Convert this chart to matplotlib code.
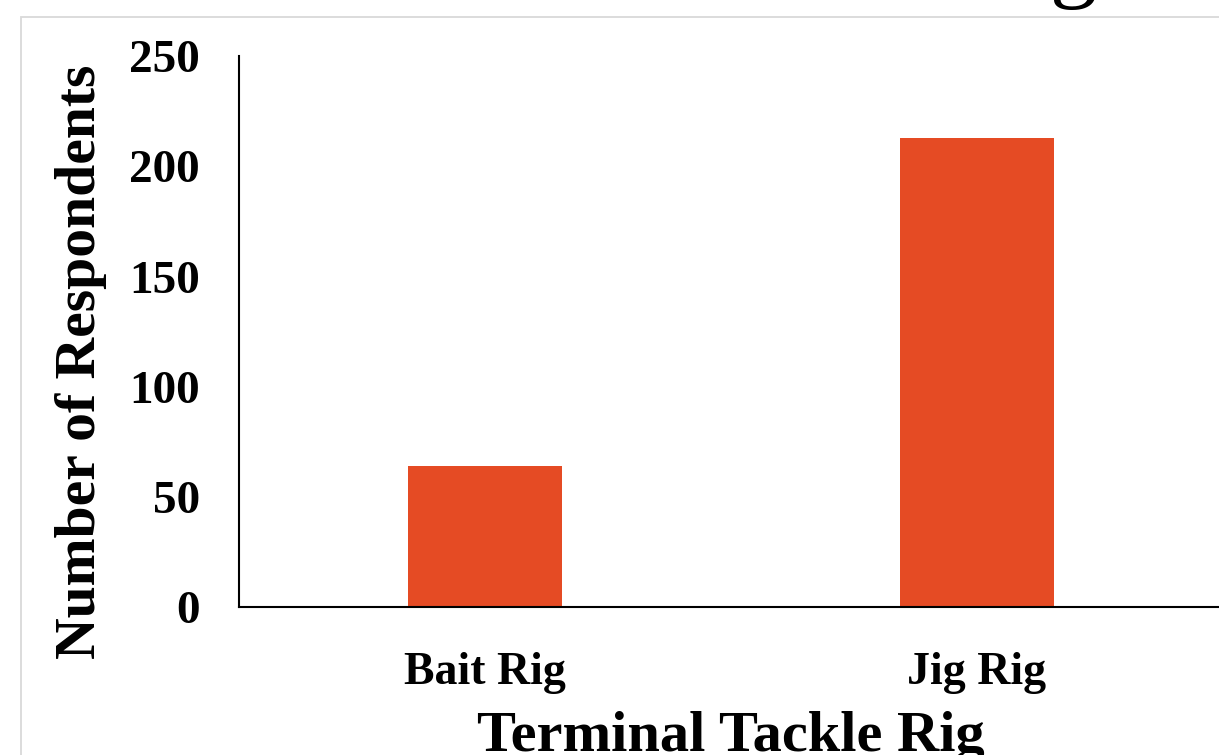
import matplotlib.pyplot as plt
from matplotlib.patches import Rectangle

# Survey counts per rig type
rigs = ["Bait Rig", "Jig Rig"]
respondents = [64, 213]
yticks = [0, 50, 100, 150, 200, 250]

plt.rcParams['font.family'] = ['Liberation Serif', 'DejaVu Serif']
plt.rcParams['font.weight'] = 'bold'

fig = plt.figure(figsize=(12.19, 7.55), dpi=100)
fig.patch.set_facecolor('white')

# Slide frame, cut off on the right and bottom
fig.patches.append(Rectangle((0.0172, -0.1), 1.2, 1.078, transform=fig.transFigure,
                             fill=False, edgecolor='#d9d9d9', linewidth=1.3))

ax = fig.add_axes([0.196, 0.1954, 0.8072, 0.7305])
x = range(len(rigs))
ax.bar(x, respondents, width=0.313, color='#E54B24')

ax.set_xlim(-0.5, 1.5)
ax.set_ylim(0, 250)
ax.set_yticks(yticks)
ax.set_xticks(list(x))
ax.set_xticklabels(rigs)
ax.tick_params(axis='y', length=0, pad=28, labelsize=34)
ax.tick_params(axis='x', length=0, pad=32, labelsize=33)

for side in ['top', 'right']:
    ax.spines[side].set_visible(False)
for side in ['left', 'bottom']:
    ax.spines[side].set_linewidth(1.5)
    ax.spines[side].set_color('black')

ax.set_ylabel("Number of Respondents", fontsize=41.5, fontweight='bold')
ax.yaxis.set_label_coords(-0.134, 0.445)
ax.set_xlabel("Terminal Tackle Rig", fontsize=42, fontweight='bold', labelpad=12.5)

# Tail of the slide title running off the top
fig.text(0.881, 1.013, "g", fontsize=68, fontweight='normal', ha='center', va='baseline')

fig.savefig("out.png", dpi=100)
